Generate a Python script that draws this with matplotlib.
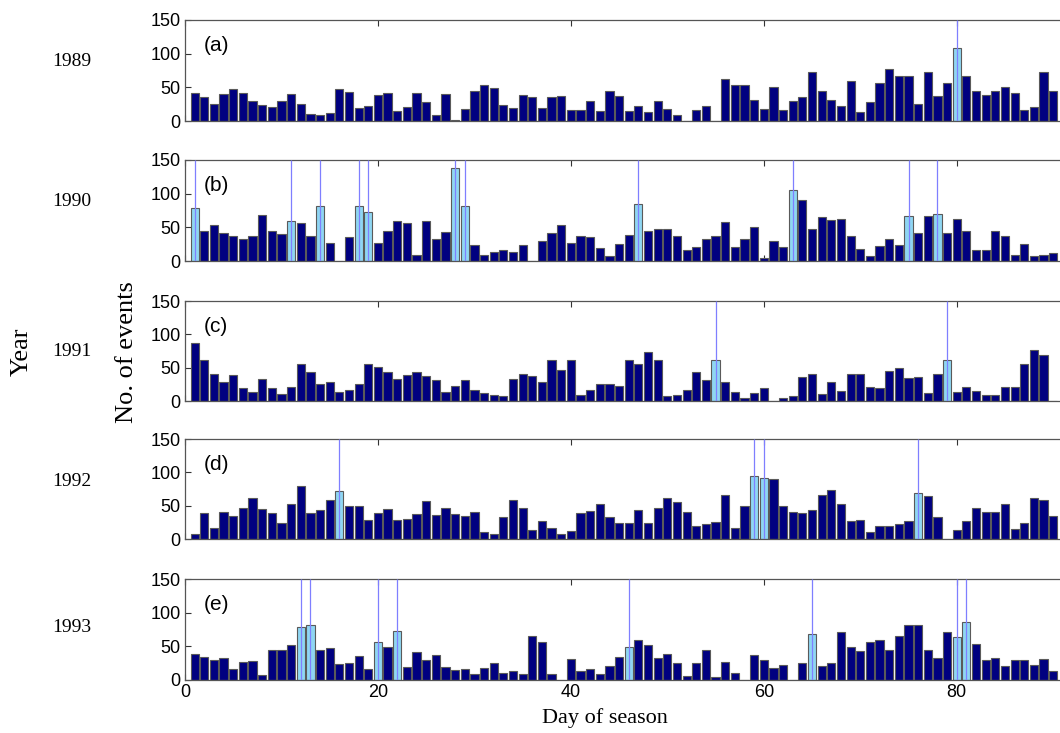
import matplotlib
matplotlib.use('Agg')
import matplotlib.pyplot as plt
import numpy as np

## Data: number of events per day of season (days 1..90)
days = np.arange(1, 91)

ev_1989 = [41, 35, 25, 40, 47, 41, 29, 24, 21, 29, 40, 25, 10, 9, 12, 47, 43, 20, 23, 39,
           41, 15, 21, 41, 28, 9, 40, 2, 18, 44, 53, 49, 24, 20, 39, 35, 20, 35, 37, 17,
           16, 29, 15, 45, 37, 15, 22, 13, 29, 18, 9, 0, 17, 22, 0, 63, 53, 53, 31, 18,
           51, 16, 29, 35, 73, 45, 31, 22, 60, 13, 28, 56, 77, 67, 67, 25, 73, 37, 56, 108,
           67, 45, 39, 45, 51, 41, 17, 21, 73, 45]
ev_1990 = [78, 45, 53, 41, 37, 33, 37, 69, 45, 40, 59, 56, 37, 82, 27, 0, 35, 82, 73, 27,
           44, 59, 56, 9, 59, 32, 43, 138, 82, 24, 9, 13, 17, 13, 24, 0, 29, 41, 53, 27,
           37, 35, 20, 8, 25, 39, 85, 45, 48, 48, 37, 17, 21, 33, 37, 58, 21, 33, 51, 5,
           29, 21, 106, 90, 48, 65, 61, 63, 37, 18, 8, 22, 32, 24, 67, 41, 67, 70, 41, 63,
           45, 17, 17, 45, 37, 9, 25, 8, 9, 12]
ev_1991 = [87, 62, 41, 29, 39, 20, 13, 33, 19, 10, 21, 56, 44, 25, 28, 13, 17, 25, 56, 51,
           43, 33, 39, 43, 37, 32, 13, 23, 31, 17, 12, 9, 8, 33, 40, 37, 29, 62, 47, 62,
           9, 16, 25, 25, 23, 62, 55, 74, 62, 7, 9, 16, 43, 31, 62, 29, 13, 5, 12, 19,
           0, 5, 7, 36, 41, 10, 29, 15, 41, 41, 21, 20, 45, 49, 35, 36, 12, 41, 62, 13,
           21, 15, 9, 9, 21, 21, 55, 76, 69, 0]
ev_1992 = [7, 39, 16, 41, 34, 47, 61, 45, 39, 24, 53, 79, 39, 43, 59, 72, 49, 50, 29, 39,
           45, 29, 30, 38, 57, 36, 46, 38, 34, 41, 10, 7, 33, 59, 47, 14, 27, 16, 8, 12,
           39, 42, 53, 33, 24, 24, 43, 24, 47, 61, 55, 41, 20, 23, 26, 66, 16, 49, 94, 92,
           90, 50, 41, 39, 43, 66, 74, 53, 27, 28, 11, 20, 19, 23, 27, 69, 65, 33, 0, 13,
           27, 47, 41, 41, 53, 15, 24, 61, 59, 35]
ev_1993 = [38, 34, 29, 33, 17, 26, 28, 8, 44, 45, 52, 78, 81, 45, 47, 24, 25, 36, 16, 57,
           49, 73, 20, 41, 29, 37, 20, 15, 16, 9, 18, 25, 10, 13, 9, 65, 57, 9, 0, 31,
           13, 16, 9, 21, 34, 49, 60, 52, 33, 39, 25, 6, 25, 45, 4, 26, 10, 0, 37, 29,
           18, 23, 0, 25, 69, 21, 25, 72, 49, 43, 57, 60, 45, 65, 82, 82, 44, 33, 72, 64,
           86, 53, 29, 32, 21, 29, 29, 23, 31, 13]

## Highlighted days per year
hl_1989 = [80]
hl_1990 = [1, 11, 14, 18, 19, 28, 29, 47, 63, 75, 78]
hl_1991 = [55, 79]
hl_1992 = [16, 59, 60, 76]
hl_1993 = [12, 13, 20, 22, 46, 65, 80, 81]

years = ['1989', '1990', '1991', '1992', '1993']
panel_labels = ['(a)', '(b)', '(c)', '(d)', '(e)']
series = [ev_1989, ev_1990, ev_1991, ev_1992, ev_1993]
highlights = [hl_1989, hl_1990, hl_1991, hl_1992, hl_1993]

## Panel placement (pixel rows in a 1060x733 figure)
W, H = 1060.0, 733.0
panel_px = [(20, 121), (160, 261), (301, 401), (439, 539), (579, 680)]
year_y_px = [62, 202, 352, 482, 628]

navy = '#000080'
light = '#8fd6f2'
edge = '#5a5a5a'
line_c = '#7f7fff'

fig = plt.figure(figsize=(10.6, 7.33), dpi=100)

for i in range(5):
    top, bot = panel_px[i]
    ax = fig.add_axes([185 / W, 1 - bot / H, 874 / W, (bot - top) / H])
    vals = np.array(series[i])
    colors = [light if d in highlights[i] else navy for d in days]
    ax.bar(days, vals, width=0.85, color=colors, edgecolor=edge, linewidth=0.8, zorder=2)
    ## vertical marker lines for the highlighted days
    ax.vlines(highlights[i], 0, 150, color=line_c, linewidth=0.9, zorder=3)

    ax.set_xlim(0, 90.6)
    ax.set_ylim(0, 150)
    ax.set_yticks([0, 50, 100, 150])
    ax.set_xticks([0, 20, 40, 60, 80])
    ax.tick_params(direction='in', top=True, right=False, length=4, width=0.8,
                   colors='#333333', labelcolor='black', labelsize=13, pad=3)
    for lab in ax.get_yticklabels() + ax.get_xticklabels():
        lab.set_fontfamily('Liberation Sans')
    if i < 4:
        ax.set_xticklabels([])
    for s in ['left', 'top', 'bottom']:
        ax.spines[s].set_color('#555555')
        ax.spines[s].set_linewidth(0.9)
    ax.spines['right'].set_visible(False)

    ax.text(0.022, 0.75, panel_labels[i], transform=ax.transAxes, ha='left', va='center',
            fontsize=15, family='Liberation Sans')
    fig.text(72 / W, 1 - year_y_px[i] / H, years[i], ha='center', va='center',
             fontsize=14, family='Liberation Serif')

## Axis titles
fig.text(22 / W, 1 - 352 / H, 'Year', rotation=90, ha='center', va='center',
         fontsize=19, family='Liberation Serif')
fig.text(127 / W, 1 - 352 / H, 'No. of events', rotation=90, ha='center', va='center',
         fontsize=19, family='Liberation Serif')
fig.text(605 / W, 1 - 718 / H, 'Day of season', ha='center', va='center',
         fontsize=16, family='Liberation Serif')

plt.savefig('out.png', dpi=100)
